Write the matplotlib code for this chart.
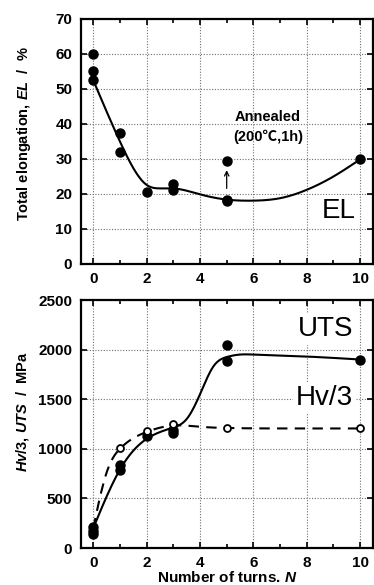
import numpy as np
import matplotlib
matplotlib.use("Agg")
import matplotlib.pyplot as plt
from matplotlib.ticker import MultipleLocator

plt.rcParams['font.family'] = ['Liberation Sans', 'DejaVu Sans']
plt.rcParams['mathtext.fontset'] = 'custom'
plt.rcParams['mathtext.it'] = 'Liberation Sans:italic:bold'
plt.rcParams['mathtext.rm'] = 'Liberation Sans:bold'
plt.rcParams['mathtext.bf'] = 'Liberation Sans:bold'

# ---- data: top panel (total elongation) ----
el_n = [0, 0, 0, 1, 1, 2, 3, 3, 5, 5, 10]
el_val = [60, 55, 52.5, 37.5, 32, 20.6, 22.8, 21.0, 18.4, 18.0, 29.9]
el_annealed_n = [5]
el_annealed_val = [29.5]
el_fit_n = [0, 1, 2, 2.5, 3, 4, 5, 6, 7, 8, 9, 10]
el_fit_val = [52.5, 35, 22.6, 21.6, 21.6, 19.9, 18.4, 18.1, 18.8, 21.2, 25.0, 29.9]

# ---- data: bottom panel (UTS and Hv/3) ----
uts_n = [0, 0, 0, 1, 1, 2, 3, 3, 5, 5, 10]
uts_val = [215, 175, 145, 835, 785, 1130, 1190, 1155, 2045, 1885, 1900]
uts_fit_n = [0, 1, 2, 3, 3.5, 4, 4.5, 5, 5.5, 6, 8, 10]
uts_fit_val = [200, 790, 1100, 1215, 1300, 1550, 1830, 1925, 1950, 1950, 1930, 1900]
hv_n = [1, 2, 3, 5, 10]
hv_val = [1010, 1180, 1250, 1205, 1205]
hv_fit_n = [0, 0.5, 1, 2, 3, 4, 5, 7.5, 10]
hv_fit_val = [200, 760, 1000, 1170, 1235, 1222, 1210, 1205, 1205]

x_ticks = [0, 2, 4, 6, 8, 10]


def spline(xk, yk, num=300):
    """Natural cubic spline through knots (numpy only)."""
    xk = np.asarray(xk, float); yk = np.asarray(yk, float)
    n = len(xk)
    h = np.diff(xk)
    A = np.zeros((n, n)); b = np.zeros(n)
    A[0, 0] = A[-1, -1] = 1
    for i in range(1, n - 1):
        A[i, i - 1] = h[i - 1]; A[i, i] = 2 * (h[i - 1] + h[i]); A[i, i + 1] = h[i]
        b[i] = 3 * ((yk[i + 1] - yk[i]) / h[i] - (yk[i] - yk[i - 1]) / h[i - 1])
    c = np.linalg.solve(A, b)
    xs = np.linspace(xk[0], xk[-1], num)
    idx = np.clip(np.searchsorted(xk, xs) - 1, 0, n - 2)
    dx = xs - xk[idx]
    bb = (yk[1:] - yk[:-1]) / h - h * (2 * c[:-1] + c[1:]) / 3
    dd = (c[1:] - c[:-1]) / (3 * h)
    ys = yk[idx] + bb[idx] * dx + c[idx] * dx ** 2 + dd[idx] * dx ** 3
    return xs, ys


fig = plt.figure(figsize=(3.74, 5.85), dpi=100)
W, H = 374, 585
ax1 = fig.add_axes([80.7 / W, 1 - 264 / H, (372.7 - 80.7) / W, (264 - 19) / H])
ax2 = fig.add_axes([80.7 / W, 1 - 548 / H, (372.7 - 80.7) / W, (548 - 300) / H])

for ax in (ax1, ax2):
    ax.set_xlim(-0.47, 10.47)
    ax.xaxis.set_minor_locator(MultipleLocator(1))
    ax.set_xticks(x_ticks)
    ax.tick_params(which='both', direction='in', top=True, right=True, width=1.2)
    ax.tick_params(which='major', length=4, labelsize=11, pad=6)
    ax.tick_params(which='minor', length=3)
    for s in ax.spines.values():
        s.set_linewidth(1.6)
    ax.grid(True, which='major', linestyle=(0, (1, 1.5)), color='#707070', linewidth=0.8)
    ax.set_axisbelow(True)

# ---- top panel ----
ax1.set_ylim(0, 70)
ax1.yaxis.set_major_locator(MultipleLocator(10))
xs, ys = spline(el_fit_n, el_fit_val)
ax1.plot(xs, ys, color='black', lw=1.5, zorder=3)
ax1.plot(el_n, el_val, 'o', color='black', ms=6.5, zorder=4)
ax1.plot(el_annealed_n, el_annealed_val, 'o', color='black', ms=6.5, zorder=4)
ax1.annotate('', xy=(5, 27.6), xytext=(5, 20.8),
             arrowprops=dict(arrowstyle='->', color='black', lw=0.9, mutation_scale=8))
ax1.text(6.55, 41.9, 'Annealed', ha='center', va='center', fontsize=10.5, fontweight='bold')
ax1.text(6.55, 36.3, '(200\u2103,1h)', ha='center', va='center', fontsize=10.5, fontweight='bold',
         family=['Liberation Sans', 'Noto Sans CJK JP', 'DejaVu Sans'])
ax1.text(9.2, 15.1, 'EL', ha='center', va='center', fontsize=20,
         bbox=dict(facecolor='white', edgecolor='none', pad=2), zorder=5)
ax1.set_ylabel('Total elongation, $\\mathit{EL}$  /  %', fontsize=10.5, fontweight='bold')
ax1.yaxis.set_label_coords(-0.165, 0.53)

# ---- bottom panel ----
ax2.set_ylim(0, 2500)
ax2.yaxis.set_major_locator(MultipleLocator(500))
xs, ys = spline(uts_fit_n, uts_fit_val)
ax2.plot(xs, ys, color='black', lw=1.5, zorder=3)
xs, ys = spline(hv_fit_n, hv_fit_val)
ax2.plot(xs, ys, color='black', lw=1.5, ls=(0, (5, 3.5)), zorder=3)
ax2.plot(uts_n, uts_val, 'o', color='black', ms=6.5, zorder=4)
ax2.plot(hv_n, hv_val, 'o', mfc='white', mec='black', mew=1.3, ms=5, zorder=4)
ax2.text(8.7, 2210, 'UTS', ha='center', va='center', fontsize=20,
         bbox=dict(facecolor='white', edgecolor='none', pad=2), zorder=5)
ax2.text(8.65, 1509, 'Hv/3', ha='center', va='center', fontsize=20,
         bbox=dict(facecolor='white', edgecolor='none', pad=2), zorder=5)
ax2.set_ylabel('$\\mathit{Hv/3}$, $\\mathit{UTS}$  /  MPa', fontsize=10.5, fontweight='bold')
ax2.yaxis.set_label_coords(-0.17, 0.55)

for ax in (ax1, ax2):
    for lab in ax.get_xticklabels() + ax.get_yticklabels():
        lab.set_fontweight('bold')

fig.text((80.7 + 372.7) / 2 / W, 1 - 577 / H, 'Number of turns. $\\mathit{N}$',
         ha='center', va='center', fontsize=11, fontweight='bold')

fig.savefig('out.png', dpi=100)
